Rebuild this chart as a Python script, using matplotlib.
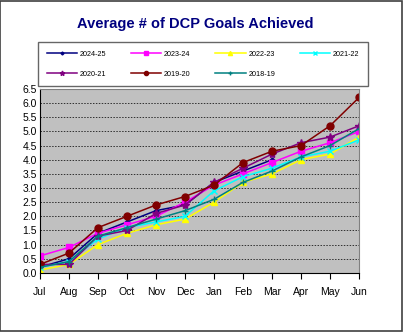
import matplotlib.pyplot as plt
from matplotlib.patches import Rectangle

months = ['Jul', 'Aug', 'Sep', 'Oct', 'Nov', 'Dec', 'Jan', 'Feb', 'Mar', 'Apr', 'May', 'Jun']

# 各年度資料
y2024 = [0.2, 0.5, 1.4, 1.8, 2.2, 2.4, 3.2, 3.6, 4.0]
y2023 = [0.6, 0.9, 1.4, 1.7, 2.0, 2.5, 3.1, 3.5, 3.9, 4.3, 4.6, 5.0]
y2022 = [0.1, 0.3, 1.0, 1.4, 1.7, 1.9, 2.5, 3.2, 3.5, 4.0, 4.2, 4.8]
y2021 = [0.2, 0.4, 1.2, 1.6, 1.8, 2.0, 2.9, 3.4, 3.7, 4.1, 4.3, 4.7]
y2020 = [0.3, 0.3, 1.3, 1.5, 2.1, 2.4, 3.2, 3.7, 4.2, 4.6, 4.8, 5.2]
y2019 = [0.3, 0.7, 1.6, 2.0, 2.4, 2.7, 3.1, 3.9, 4.3, 4.5, 5.2, 6.2]
y2018 = [0.2, 0.4, 1.3, 1.6, 1.9, 2.2, 2.6, 3.2, 3.6, 4.1, 4.5, 5.1]

series = [
    ('2024-25', y2024, '#000080', 'D', 2.5),
    ('2023-24', y2023, '#FF00FF', 's', 5),
    ('2022-23', y2022, '#FFFF00', '^', 5),
    ('2021-22', y2021, '#00FFFF', 'x', 5),
    ('2020-21', y2020, '#800080', '*', 6),
    ('2019-20', y2019, '#800000', 'o', 5),
    ('2018-19', y2018, '#008080', '+', 5),
]

plt.rcParams['font.family'] = ['Liberation Sans', 'DejaVu Sans']

fig = plt.figure(figsize=(4.03, 3.32), dpi=100)
fig.patches.append(Rectangle((0.001, 0.002), 0.996, 0.995, transform=fig.transFigure,
                             fill=False, edgecolor='#404040', linewidth=1.2))
ax = fig.add_axes([0.099, 0.178, 0.792, 0.554])
ax.set_facecolor('#C0C0C0')

lines = {}
for name, vals, color, mk, ms in series:
    lines[name], = ax.plot(range(len(vals)), vals, color=color, marker=mk, markersize=ms,
                           linewidth=1.1, label=name, markeredgewidth=1.0)

ax.set_xlim(0, 11)
ax.set_ylim(0, 6.5)
ax.set_xticks(range(12))
ax.set_xticklabels(months, fontsize=7.5)
ax.set_yticks([i * 0.5 for i in range(14)])
ax.set_yticklabels([f'{i * 0.5:.1f}' for i in range(14)], fontsize=7.5)
ax.tick_params(axis='x', direction='out', length=4, width=0.8, pad=6)
ax.tick_params(axis='y', length=0, pad=2)
ax.yaxis.grid(True, color='#303030', linestyle=(0, (1.5, 1.5)), linewidth=0.7)
ax.set_axisbelow(True)
for s in ax.spines.values():
    s.set_color('#808080')
ax.spines['bottom'].set_color('#000000')
ax.spines['left'].set_color('#000000')

fig.text(0.484, 0.928, 'Average # of DCP Goals Achieved', ha='center', va='center',
         fontsize=10.5, fontweight='bold', color='#000080')

# 圖例依列排列
order = ['2024-25', '2020-21', '2023-24', '2019-20', '2022-23', '2018-19', '2021-22']
fig.legend([lines[n] for n in order], order, loc='center', bbox_to_anchor=(0.504, 0.807),
           ncol=4, fontsize=5.2, frameon=True, fancybox=False, edgecolor='#404040',
           borderpad=1.2, columnspacing=3.4, handlelength=4.2, handletextpad=0.4,
           markerscale=0.6, labelspacing=1.8, borderaxespad=0)

plt.savefig('out.png', dpi=100)
